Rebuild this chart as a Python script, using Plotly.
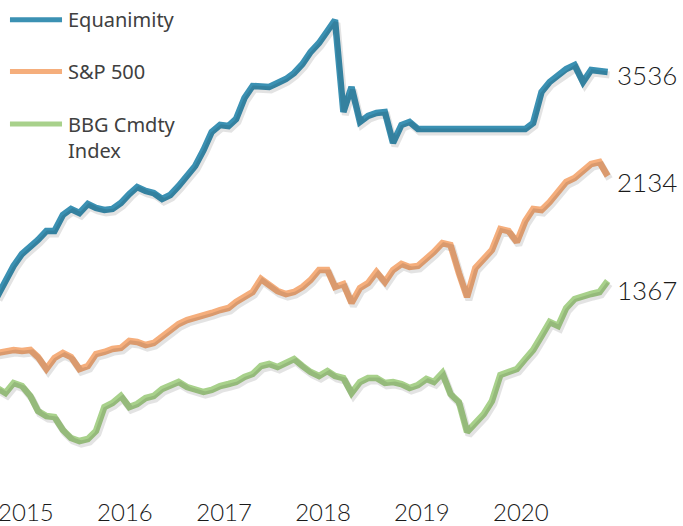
import pandas as pd
import plotly.graph_objects as go

# ---- data (monthly index levels; arbitrary index units) ----
dates = pd.date_range("2014-10-01", periods=75, freq="MS")

names = ["Equanimity", "S&P 500", "BBG Cmdty Index"]
end_labels = ["3536", "2134", "1367"]
tick_years = [2015, 2016, 2017, 2018, 2019, 2020]

equanimity = [203, 219, 234, 246, 253, 260, 269, 269, 285, 291, 287, 296,
              292, 290, 291, 297, 306, 313, 309, 307, 301, 305, 314, 323,
              334, 350, 368, 375, 374, 381, 402, 414, 413, 413, 417, 421,
              427, 436, 448, 457, 469, 480, 388, 413, 378, 384, 387, 388,
              357, 375, 378, 371,
              371, 371, 371, 371, 371, 371, 371, 371, 371, 371, 371, 371, 371,
              377, 408, 418, 424, 431, 435, 418, 430, 429, 428]

sp500 = [147, 148, 150, 149, 150, 143, 131, 142, 147, 143, 131, 134,
         146, 148, 151, 152, 159, 158, 155, 157, 164, 169, 176, 180,
         182, 185, 187, 190, 192, 198, 203, 208, 221, 215, 209, 206,
         208, 213, 220, 230, 230, 213, 216, 197, 212, 217, 228, 218,
         230, 236, 233, 234, 241, 248, 257, 255, 227, 203, 232, 241,
         250, 271, 269, 258, 279, 291, 290, 298, 308, 318, 322, 329,
         336, 338, 324]

bbg = [112, 107, 117, 114, 104, 89, 84, 83, 70, 62, 59, 61,
       69, 93, 97, 104, 93, 96, 102, 104, 111, 115, 118, 113,
       110, 108, 110, 114, 116, 118, 123, 126, 134, 136, 133, 137,
       141, 134, 128, 124, 129, 124, 122, 107, 118, 122, 122, 117,
       118, 116, 112, 115, 121, 118, 127, 106, 98, 68, 77, 86,
       99, 125, 128, 131, 141, 150, 164, 178, 174, 192, 201, 204,
       206, 208, 219]

series = [equanimity, sp500, bbg]
colors = ["#3b91b3", "#f5ae7c", "#a8d18b"]
label_yshift = [-3, -6, -9]

W, H = 683, 526
x_range = ["2014-10-12", "2021-09-05"]
x_range_shadow = ["2014-10-05", "2021-08-29"]
y_range = [4, 500]
y_range_shadow = [7, 503]

fig = go.Figure()

# soft drop shadows (same data drawn on a slightly shifted overlay axis)
for vals in series:
    fig.add_trace(go.Scatter(x=dates, y=vals, mode="lines",
                             line=dict(color="rgba(0,0,0,0.11)", width=7),
                             xaxis="x2", yaxis="y2", hoverinfo="skip",
                             showlegend=False))

for name, vals, col in zip(names, series, colors):
    fig.add_trace(go.Scatter(x=dates, y=vals, mode="lines", name=name,
                             line=dict(color=col, width=6.5),
                             showlegend=False))

# end-value labels
for vals, lab, dy in zip(series, end_labels, label_yshift):
    fig.add_annotation(x=dates[-1], y=vals[-1], text=lab, showarrow=False,
                       xanchor="left", yanchor="middle", xshift=7, yshift=dy,
                       font=dict(family="Lato", weight=300, size=26,
                                 color="#1a1a1a"))

# legend (drawn manually to match the long swatches)
legend_rows = [0.960, 0.856, 0.750]
legend_text = ["Equanimity", "S&P 500", "BBG Cmdty<br>Index"]
for yy, txt, col in zip(legend_rows, legend_text, colors):
    fig.add_shape(type="line", xref="paper", yref="paper",
                  x0=0.0146, x1=0.0908, y0=yy, y1=yy,
                  line=dict(color=col, width=5))
    fig.add_annotation(xref="paper", yref="paper", x=0.097, y=yy,
                       text=txt, showarrow=False, xanchor="left",
                       yanchor="top" if "<br>" in txt else "middle",
                       yshift=15 if "<br>" in txt else 0,
                       align="left",
                       font=dict(family="Noto Sans", size=20, color="#404040"))

fig.update_layout(
    width=W, height=H,
    margin=dict(l=0, r=0, t=0, b=30),
    paper_bgcolor="white", plot_bgcolor="white",
    showlegend=False,
    xaxis=dict(range=x_range, showgrid=False, zeroline=False, showline=False,
               ticks="", tickvals=[f"{y}-01-01" for y in tick_years],
               ticktext=[str(y) for y in tick_years],
               ticklabeloverflow="allow", ticklabelshift=4,
               tickfont=dict(family="Lato", weight=300, size=24, color="#1a1a1a"),
               automargin=False),
    yaxis=dict(range=y_range, visible=False, automargin=False),
    xaxis2=dict(range=x_range_shadow, overlaying="x", visible=False),
    yaxis2=dict(range=y_range_shadow, overlaying="y", visible=False),
)

fig.write_html("out.html",
               config={"displayModeBar": False},
               post_script="document.body.style.margin='0';"
                           "document.body.style.overflow='hidden';")
